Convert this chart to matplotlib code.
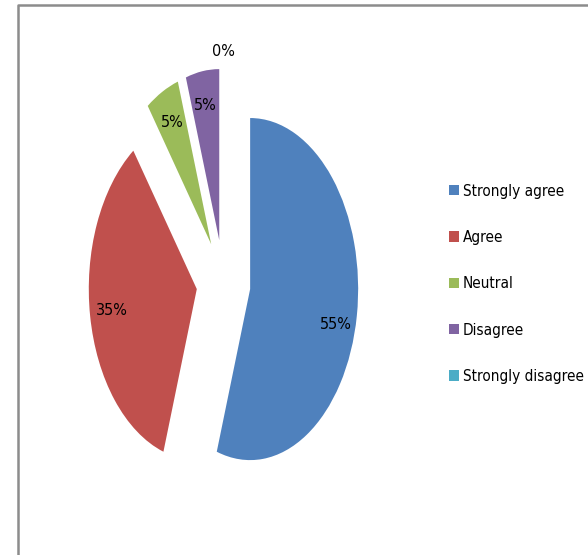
import matplotlib.pyplot as plt
from matplotlib.lines import Line2D
import numpy as np

categories = ["Strongly agree", "Agree", "Neutral", "Disagree", "Strongly disagree"]
values = [55, 35, 5, 5, 0]
colors = ["#4F81BD", "#C0504D", "#9BBB59", "#8064A2", "#4BACC6"]
explode = [0.25, 0.25, 0.25, 0.25, 0.25]

plt.rcParams['font.family'] = ['DejaVu Sans']
plt.rcParams['font.stretch'] = 'condensed'

fig = plt.figure(figsize=(5.88, 5.55), dpi=100, facecolor="white")
ax = fig.add_axes([0, 0, 1, 1])

wedges, texts, autotexts = ax.pie(
    values, colors=colors, explode=explode, startangle=90, counterclock=False,
    autopct=lambda p: f"{p:.0f}%", pctdistance=0.8,
    textprops=dict(fontsize=11.5, color="black"),
    wedgeprops=dict(linewidth=0),
)

# the empty slice gets its label outside, above the pie
w0 = wedges[-1]
ang = np.deg2rad((w0.theta1 + w0.theta2) / 2)
cx, cy = w0.center
autotexts[-1].set_position((cx + 1.1 * w0.r * np.cos(ang), cy + 1.1 * w0.r * np.sin(ang)))
# largest slice label sits a little lower in the original
bx, by = autotexts[0].get_position()
autotexts[0].set_position((bx, by - 0.08))

# squashed (elliptical) pie like the original
ax.set_aspect("auto")
ax.set_xlim(-2.069, 3.375)
ax.set_ylim(-1.594, 1.651)
ax.axis("off")

fig.legend(wedges, categories, loc="upper left", bbox_to_anchor=(0.740, 0.694),
           frameon=False, fontsize=11, handlelength=0.65, handleheight=0.65,
           handletextpad=0.25, labelspacing=2.05)

# chart area border (top and left only visible)
x0 = 18 / 588
y0 = 1 - 5 / 555
fig.add_artist(Line2D([x0, x0, 1], [0, y0, y0], color="#8c8c8c", linewidth=1.8))

fig.savefig("out.png", dpi=100)
